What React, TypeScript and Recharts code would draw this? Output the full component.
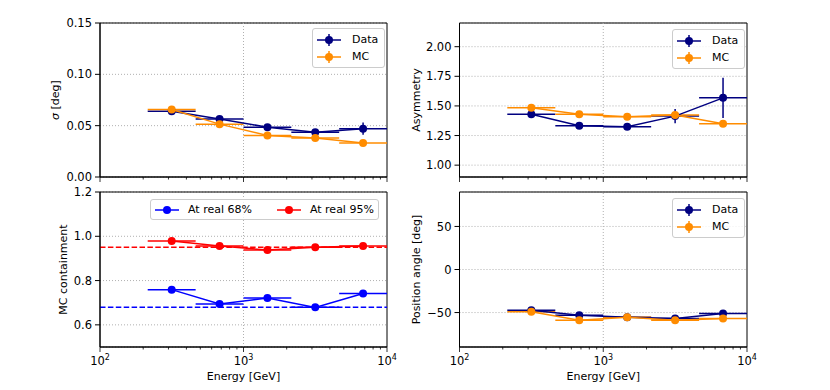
import {
    ComposedChart,
    Scatter,
    XAxis,
    YAxis,
    CartesianGrid,
    ReferenceLine,
    ReferenceArea,
    ErrorBar,
    Legend,
} from "recharts";

const FONT = "'DejaVu Sans', Verdana, sans-serif";
const NAVY = "#000080";
const ORANGE = "#ff8c00";
const BLUE = "#0000ff";
const RED = "#ff0000";
const GRID = "#b0b0b0";

// energy bins [GeV]
const energy = [316, 681, 1468, 3162, 6813];
const binLow = [215, 464, 1000, 2154, 4642];
const binHigh = [464, 1000, 2154, 4642, 10000];

// sigma [deg]
const sigmaData = [0.064, 0.0566, 0.0485, 0.0435, 0.0471];
const sigmaDataErr = [0.001, 0.001, 0.001, 0.0015, 0.006];
const sigmaMC = [0.0657, 0.0515, 0.0405, 0.0379, 0.0332];
const sigmaMCErr = [0.0005, 0.0005, 0.0005, 0.0005, 0.0005];

// asymmetry
const asymData = [1.429, 1.332, 1.324, 1.414, 1.568];
const asymDataErr = [0.01, 0.01, 0.01, 0.06, 0.17];
const asymMC = [1.484, 1.429, 1.408, 1.423, 1.349];
const asymMCErr = [0.005, 0.005, 0.005, 0.005, 0.005];

// MC containment
const cont68 = [0.759, 0.694, 0.721, 0.679, 0.742];
const cont95 = [0.979, 0.956, 0.938, 0.951, 0.956];
const contTargets = [0.68, 0.95];

// position angle [deg]
const paData = [-47.2, -53, -55.4, -57, -51];
const paDataErr = [1, 1, 1, 1.5, 2.5];
const paMC = [-49, -59, -55.4, -59, -57];
const paMCErr = [0.5, 0.5, 0.5, 0.5, 0.5];

const xTicks = [100, 200, 300, 400, 500, 600, 700, 800, 900, 1000, 2000, 3000, 4000, 5000, 6000, 7000, 8000, 9000, 10000];
const sigmaTicks = [0, 0.05, 0.1, 0.15];
const asymTicks = [1.0, 1.25, 1.5, 1.75, 2.0];
const contTicks = [0.6, 0.8, 1.0, 1.2];
const paTicks = [-50, 0, 50];

function table(values: number[], errs?: number[]) {
    return energy.map((x, i) => ({
        x,
        y: values[i],
        xErr: [x - binLow[i], binHigh[i] - x],
        yErr: errs ? [errs[i], errs[i]] : [0, 0],
    }));
}

function LogTick({ x, y, payload, showLabel }: any) {
    const exp = Math.log10(payload.value);
    const major = Math.abs(exp - Math.round(exp)) < 1e-6;
    return (
        <g>
            <line x1={x} x2={x} y1={y} y2={y + (major ? 5 : 2.5)} stroke="#000" strokeWidth={0.8} />
            {showLabel && major && (
                <text x={x} y={y + 18} textAnchor="middle" fontSize={11.5} fontFamily={FONT} fill="#000">
                    10<tspan dy={-5} fontSize={8}>{Math.round(exp)}</tspan>
                </text>
            )}
        </g>
    );
}

function YTitle({ viewBox, value, dx }: any) {
    const cx = viewBox.x + viewBox.width - dx;
    const cy = viewBox.y + viewBox.height / 2;
    return (
        <text
            x={cx}
            y={cy}
            transform={`rotate(-90 ${cx} ${cy})`}
            textAnchor="middle"
            dominantBaseline="central"
            fontSize={11}
            fontFamily={FONT}
            fill="#000"
        >
            {value === "σ [deg]" ? (
                <>
                    <tspan fontStyle="italic">σ</tspan> [deg]
                </>
            ) : (
                value
            )}
        </text>
    );
}

function XTitle({ viewBox }: any) {
    return (
        <text
            x={viewBox.x + viewBox.width / 2}
            y={viewBox.y + 33}
            textAnchor="middle"
            fontSize={11}
            fontFamily={FONT}
            fill="#000"
        >
            Energy [GeV]
        </text>
    );
}

function LegendBox({ items, horizontal, errorbar }: any) {
    return (
        <div
            style={{
                border: "1px solid #cccccc",
                borderRadius: 3,
                background: "rgba(255,255,255,0.8)",
                padding: horizontal ? "1px 4px" : "2px 6px 2px 4px",
                display: "flex",
                flexDirection: horizontal ? "row" : "column",
                fontFamily: FONT,
                fontSize: 11,
                color: "#000",
                whiteSpace: "nowrap",
            }}
        >
            {items.map((it: any, i: number) => (
                <div
                    key={it.name}
                    style={{
                        display: "flex",
                        alignItems: "center",
                        height: 17,
                        marginRight: horizontal && i === 0 ? 25 : 0,
                    }}
                >
                    <svg width={24} height={16}>
                        <line x1={0} x2={24} y1={8} y2={8} stroke={it.color} strokeWidth={1.5} />
                        {errorbar && <line x1={12} x2={12} y1={2} y2={14} stroke={it.color} strokeWidth={1.5} />}
                        <circle cx={12} cy={8} r={4} fill={it.color} />
                    </svg>
                    <span style={{ marginLeft: horizontal ? 9 : 11 }}>{it.name}</span>
                </div>
            ))}
        </div>
    );
}

interface Series {
    name: string;
    color: string;
    data: ReturnType<typeof table>;
}

interface PanelProps {
    left: number;
    top: number;
    width: number;
    height: number;
    marginTop: number;
    yAxisWidth: number;
    xAxisHeight: number;
    yDomain: [number, number];
    yTicks: number[];
    yFormat: (v: number) => string;
    yTitle: string;
    yTitleDx: number;
    showXLabels: boolean;
    series: Series[];
    refLines?: { y: number; color: string }[];
    legendPos: { left: number; top: number };
    legendHorizontal?: boolean;
    legendErrorbar?: boolean;
}

function Panel(p: PanelProps) {
    return (
        <div style={{ position: "absolute", left: p.left, top: p.top }}>
            <ComposedChart
                width={p.width}
                height={p.height}
                margin={{ top: p.marginTop, right: 13, left: 0, bottom: 0 }}
            >
                <CartesianGrid vertical={false} stroke={GRID} strokeDasharray="1 2" />
                <XAxis
                    dataKey="x"
                    type="number"
                    scale="log"
                    domain={[100, 10000]}
                    allowDataOverflow
                    ticks={xTicks}
                    interval={0}
                    tick={(t: any) => <LogTick {...t} showLabel={p.showXLabels} />}
                    tickSize={0}
                    tickMargin={0}
                    tickLine={false}
                    axisLine={{ stroke: "#000" }}
                    height={p.xAxisHeight}
                    label={p.showXLabels ? { content: (l: any) => <XTitle {...l} /> } : undefined}
                />
                <YAxis
                    dataKey="y"
                    type="number"
                    domain={p.yDomain}
                    allowDataOverflow
                    ticks={p.yTicks}
                    interval={0}
                    width={p.yAxisWidth}
                    tickFormatter={p.yFormat}
                    tick={{ fontSize: 11.5, fill: "#000", fontFamily: FONT }}
                    tickSize={5}
                    tickMargin={3}
                    tickLine={{ stroke: "#000" }}
                    axisLine={{ stroke: "#000" }}
                    label={{ content: (l: any) => <YTitle {...l} value={p.yTitle} dx={p.yTitleDx} /> }}
                />
                <ReferenceLine x={1000} stroke={GRID} strokeDasharray="1 2" />
                {(p.refLines || []).map((r) => (
                    <ReferenceLine key={r.y} y={r.y} stroke={r.color} strokeWidth={1.5} strokeDasharray="5.5 2.4" />
                ))}
                {p.series.map((s) => (
                    <Scatter
                        key={s.name}
                        name={s.name}
                        data={s.data}
                        fill={s.color}
                        line={{ stroke: s.color, strokeWidth: 1.5 }}
                        lineType="joint"
                        shape={(d: any) => <circle cx={d.cx} cy={d.cy} r={4} fill={s.color} />}
                        isAnimationActive={false}
                    >
                        <ErrorBar dataKey="xErr" direction="x" width={0} stroke={s.color} strokeWidth={1.5} isAnimationActive={false} />
                        <ErrorBar dataKey="yErr" direction="y" width={0} stroke={s.color} strokeWidth={1.5} isAnimationActive={false} />
                    </Scatter>
                ))}
                <ReferenceArea x1={100} x2={10000} y1={p.yDomain[0]} y2={p.yDomain[1]} fill="none" stroke="#000" strokeWidth={1} />
                <Legend
                    layout="vertical"
                    align="center"
                    verticalAlign="middle"
                    wrapperStyle={{ left: p.legendPos.left, top: p.legendPos.top, width: "auto", height: "auto" }}
                    content={() => (
                        <LegendBox
                            items={p.series.map((s) => ({ name: s.name, color: s.color }))}
                            horizontal={p.legendHorizontal}
                            errorbar={p.legendErrorbar}
                        />
                    )}
                />
            </ComposedChart>
        </div>
    );
}

export default function App() {
    return (
        <div style={{ position: "absolute", left: 0, top: 0, width: 830, height: 390, background: "#fff" }}>
            <Panel
                left={0}
                top={0}
                width={400}
                height={190}
                marginTop={23}
                yAxisWidth={100}
                xAxisHeight={13}
                yDomain={[0, 0.15]}
                yTicks={sigmaTicks}
                yFormat={(v) => v.toFixed(2)}
                yTitle="σ [deg]"
                yTitleDx={45}
                showXLabels={false}
                series={[
                    { name: "Data", color: NAVY, data: table(sigmaData, sigmaDataErr) },
                    { name: "MC", color: ORANGE, data: table(sigmaMC, sigmaMCErr) },
                ]}
                legendPos={{ left: 312, top: 28 }}
                legendErrorbar
            />
            <Panel
                left={400}
                top={0}
                width={360}
                height={190}
                marginTop={23}
                yAxisWidth={59.5}
                xAxisHeight={13}
                yDomain={[0.9, 2.2]}
                yTicks={asymTicks}
                yFormat={(v) => v.toFixed(2)}
                yTitle="Asymmetry"
                yTitleDx={43.5}
                showXLabels={false}
                series={[
                    { name: "Data", color: NAVY, data: table(asymData, asymDataErr) },
                    { name: "MC", color: ORANGE, data: table(asymMC, asymMCErr) },
                ]}
                legendPos={{ left: 272, top: 29 }}
                legendErrorbar
            />
            <Panel
                left={0}
                top={180}
                width={400}
                height={210}
                marginTop={12}
                yAxisWidth={100}
                xAxisHeight={43}
                yDomain={[0.5, 1.2]}
                yTicks={contTicks}
                yFormat={(v) => v.toFixed(1)}
                yTitle="MC containment"
                yTitleDx={37}
                showXLabels
                series={[
                    { name: "At real 68%", color: BLUE, data: table(cont68) },
                    { name: "At real 95%", color: RED, data: table(cont95) },
                ]}
                refLines={[
                    { y: contTargets[0], color: BLUE },
                    { y: contTargets[1], color: RED },
                ]}
                legendPos={{ left: 150, top: 19 }}
                legendHorizontal
            />
            <Panel
                left={400}
                top={180}
                width={360}
                height={210}
                marginTop={12}
                yAxisWidth={59.5}
                xAxisHeight={43}
                yDomain={[-90, 90]}
                yTicks={paTicks}
                yFormat={(v) => (v < 0 ? `\u2212${Math.abs(v)}` : `${v}`)}
                yTitle="Position angle [deg]"
                yTitleDx={43.5}
                showXLabels
                series={[
                    { name: "Data", color: NAVY, data: table(paData, paDataErr) },
                    { name: "MC", color: ORANGE, data: table(paMC, paMCErr) },
                ]}
                legendPos={{ left: 272, top: 18 }}
                legendErrorbar
            />
        </div>
    );
}
